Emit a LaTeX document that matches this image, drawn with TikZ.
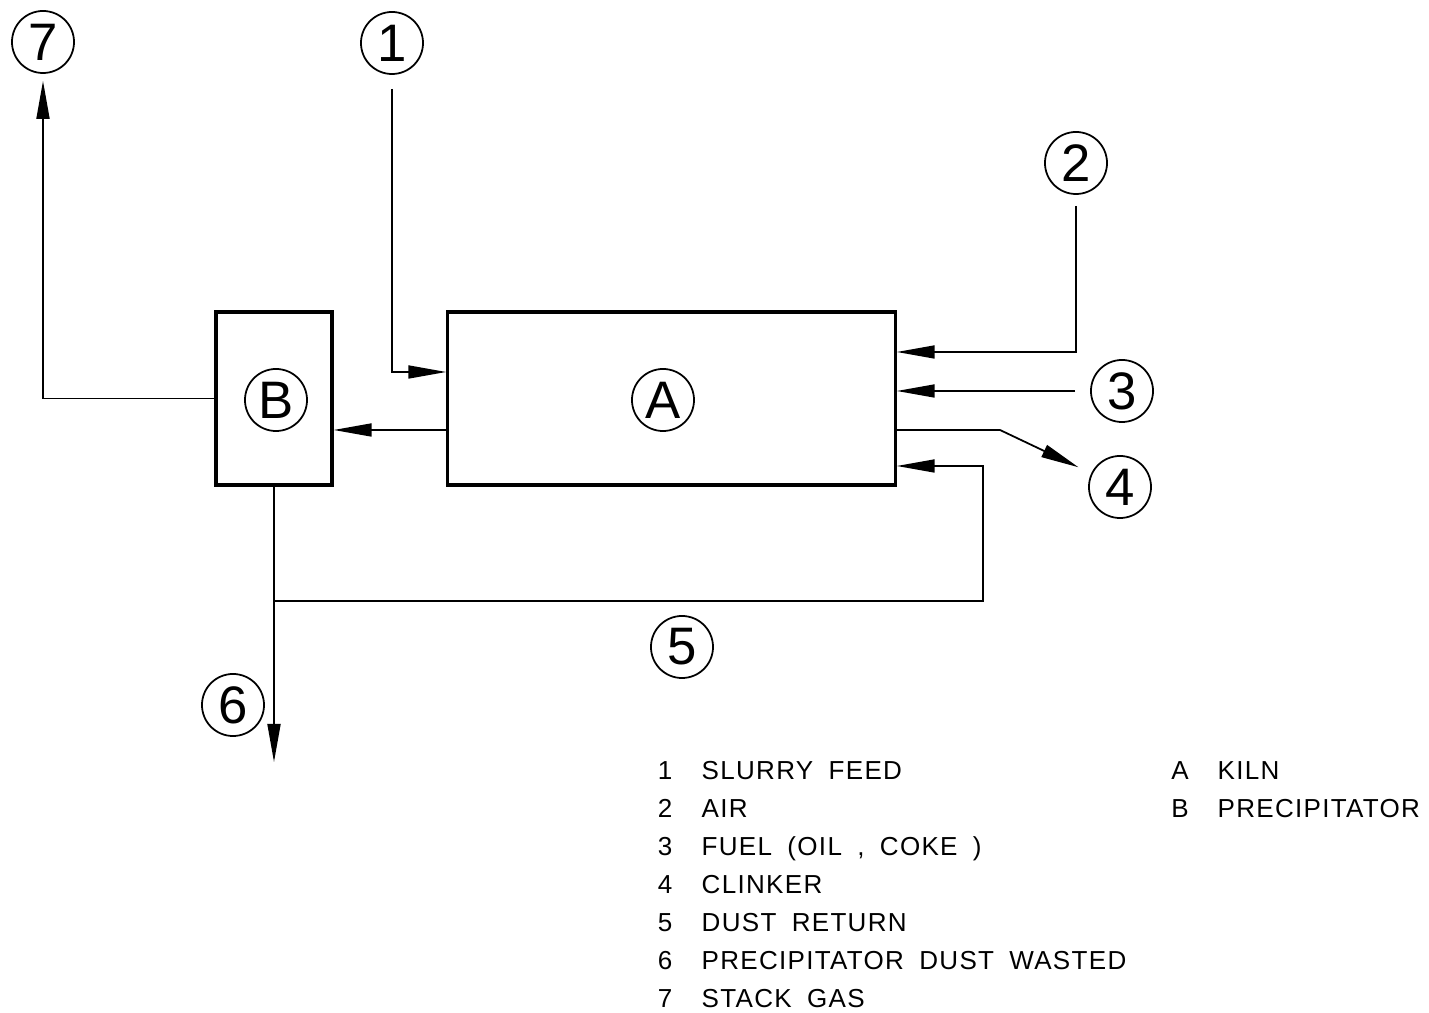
\documentclass[tikz,border=0pt]{standalone}
\usepackage{fontspec}
\setmainfont{Liberation Sans}
\newfontfamily\legendfont[LetterSpace=5, WordSpace=1.8]{Liberation Sans}
\usetikzlibrary{arrows.meta,positioning}
\tikzset{
  unit/.style={rectangle, draw, line width=0.9pt, minimum height=1.73cm, inner sep=0pt},
  tag/.style={circle, draw, line width=0.5pt, minimum size=6.2mm, inner sep=0pt, font=\fontsize{15}{15}\selectfont},
  flow/.style={-{Triangle[length=3.8mm, width=1.3mm]}, line width=0.5pt},
  pipe/.style={line width=0.5pt},
  legend/.style={anchor=base west, inner sep=0pt, font=\legendfont\fontsize{7.4}{9}\selectfont},
}
\begin{document}
\begin{tikzpicture}[x=0.01cm, y=-0.01cm]
  \useasboundingbox (0,0) rectangle (1429,1013);

  % Kiln and precipitator
  \node[unit, minimum width=4.47cm] (boxA) at (671.5,398.5) {};
  \node[unit, minimum width=1.16cm] (boxB) at (274,398.5) {};
  \node[tag] (tagA) at (663,400) {A};
  \node[tag] (tagB) at (276,400) {B};

  % Stream numbers
  \node[tag] (c1) at (392,43) {1};
  \node[tag] (c2) at (1076,163) {2};
  \node[tag] (c3) at (1122,391) {3};
  \node[tag] (c4) at (1120,487) {4};
  \node[tag] (c5) at (682,647) {5};
  \node[tag] (c6) at (233,705) {6};
  \node[tag] (c7) at (43,42) {7};

  % Bends and free ends
  \coordinate (k4) at (1000,430);
  \coordinate (j5) at (274,601);
  \coordinate (r5) at (983,466);
  \coordinate (out6) at (274,762);

  % Streams
  \draw[flow, shorten <=1.4mm] (c1.south) |- (boxA.west |- 0,372);
  \draw[flow, shorten <=1.1mm] (c2.south) |- (boxA.east |- 0,352);
  \draw[flow, shorten <=1.5mm] (c3.west) -- (c3.west -| boxA.east);
  \draw[flow, shorten >=1.4mm] (boxA.east |- k4) -- (k4) -- (c4);
  \draw[flow] (boxA.west |- 0,430) -- (boxB.east |- 0,430);
  \draw[flow] (boxB.south) -- (out6);
  \draw[flow] (j5) -| (r5) -- (r5 -| boxA.east);
  \draw[flow, shorten >=0.7mm] (boxB.west) -| (c7.south);

  % Legend
  \foreach \n/\t [count=\i from 0] in {1/SLURRY FEED, 2/AIR, 3/{FUEL (OIL , COKE )}, 4/CLINKER, 5/DUST RETURN, 6/PRECIPITATOR DUST WASTED, 7/STACK GAS} {
    \node[legend, anchor=base] (n\n) at (665,780+\i*38) {\n};
    \node[legend] (t\n) at (701,780+\i*38) {\t};
  }
  \node[legend, anchor=base] (nA) at (1180,780) {A};
  \node[legend] (tA) at (1217,780) {KILN};
  \node[legend, anchor=base] (nB) at (1180,818) {B};
  \node[legend] (tB) at (1217,818) {PRECIPITATOR};
\end{tikzpicture}
\end{document}
